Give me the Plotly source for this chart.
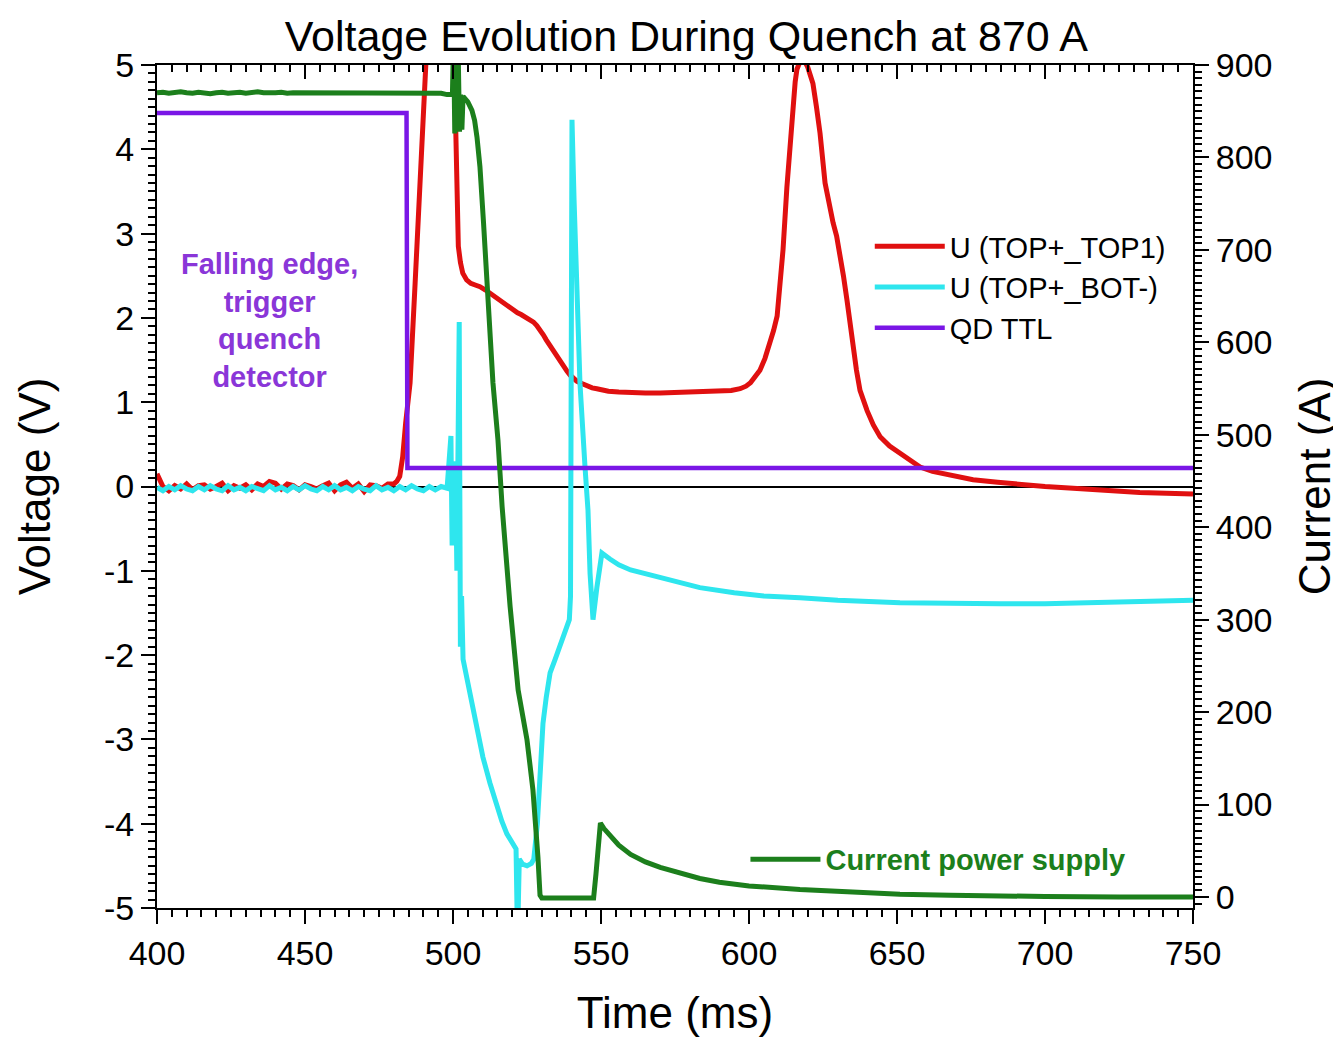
import plotly.graph_objects as go

# ---------------- data ----------------
# U (TOP+_TOP1)  [V]
red_base_t = [400 + 2 * i for i in range(41)]
red_base_v = [0.15, 0.0, -0.05, 0.01, -0.03, 0.03, -0.04, 0.01, 0.02, -0.03, 0.0, 0.04, -0.05, 0.01,
              -0.02, 0.02, -0.04, 0.03, 0.0, 0.06, 0.04, -0.03, 0.03, 0.01, -0.04, 0.02, 0.0, -0.03,
              0.01, 0.04, -0.05, 0.02, 0.05, -0.02, 0.03, -0.06, 0.02, 0.01, -0.02, 0.03, 0.03]
red_t = [481, 482, 483, 484, 485.5, 487.2, 488.9, 490.5, 492, 495, 498, 500.3, 500.7, 501.1, 501.8,
         502.5, 503.3, 504.6, 506, 507.5, 509.1, 511, 512.5, 514.5, 516, 518, 520.3, 521.8, 523, 524.5,
         526, 527.2, 528.3, 529.4, 530.5, 531.5, 532.6, 533.8, 535, 536.2, 537.4, 538.5, 539.6, 540.7,
         541.8, 542.9, 544.2, 545.5, 547, 548.6, 550.5, 552.5, 556, 560, 565, 570, 580, 590, 594,
         597, 599, 600.5, 602, 603.7, 605.4, 607.1, 608.3, 609.5, 610.5, 611.5, 612.8, 613.9, 614.9,
         615.6, 616.2, 617, 618, 619, 619.8, 620.7, 621.6, 622.8, 624, 625.7, 627, 628.4, 629.6,
         630.7, 631.9, 633.1, 634.1, 635.1, 636.3, 637.5, 638.7, 639.9, 642, 644.3, 647.5, 651,
         654.5, 657.8, 662, 666.9, 671, 675.7, 684, 692.6, 700, 709.5, 720, 732, 741, 750]
red_v = [0.06, 0.12, 0.35, 0.75, 1.23, 2.41, 3.79, 4.94, 6.2, 8.0, 7.5, 5.6, 4.6, 3.9, 2.85,
         2.66, 2.53, 2.45, 2.41, 2.39, 2.37, 2.33, 2.29, 2.24, 2.2, 2.15, 2.09, 2.06, 2.04, 2.01,
         1.98, 1.95, 1.91, 1.86, 1.80, 1.74, 1.68, 1.61, 1.54, 1.48, 1.42, 1.37, 1.32, 1.28,
         1.25, 1.23, 1.21, 1.19, 1.17, 1.16, 1.14, 1.13, 1.12, 1.11, 1.11, 1.11, 1.12, 1.13, 1.14,
         1.16, 1.19, 1.23, 1.29, 1.38, 1.52, 1.70, 1.85, 2.02, 2.35, 2.81, 3.55, 4.10, 4.55,
         4.80, 4.95, 5.02, 5.05, 5.03, 4.98, 4.90, 4.78, 4.50, 4.19, 3.60, 3.35, 3.13, 2.97,
         2.78, 2.50, 2.21, 1.92, 1.64, 1.38, 1.14, 1.00, 0.90, 0.73, 0.59, 0.48, 0.39,
         0.30, 0.23, 0.18, 0.14, 0.11, 0.08, 0.05, 0.02, 0.0, -0.02, -0.05, -0.07, -0.08, -0.09]

# U (TOP+_BOT-)  [V]
cyan_base_t = [400 + 2 * i for i in range(50)]
cyan_base_v = [-0.01, -0.05, 0.0, -0.04, 0.01, -0.03, -0.05, 0.0, -0.04, 0.01, -0.03, -0.05, 0.01,
               -0.04, -0.01, -0.05, 0.0, -0.03, -0.05, 0.01, -0.04, -0.01, -0.05, 0.0, -0.04, 0.01,
               -0.03, -0.05, 0.0, -0.04, 0.01, -0.04, -0.01, -0.05, 0.0, -0.03, -0.05, 0.01, -0.04,
               -0.01, -0.05, 0.0, -0.04, 0.01, -0.03, -0.05, 0.0, -0.04, 0.0, -0.02]
cyan_t = [499.3, 499.7, 500.1, 500.5, 500.9, 501.3, 501.7, 502.1, 502.5, 502.9, 503.4, 505, 506.8,
          508.5, 510.1, 512.5, 514.9, 516.5, 518.2, 519.5, 520.6, 521.3, 521.8, 522.4, 523.5, 525,
          526.5, 527.3, 528.5, 529.4, 530.4, 531.5, 532.8, 534.5, 536.1, 537.8, 539.3, 539.7, 540.2,
          540.9, 541.9, 542.9, 544.6, 545.6, 546.3, 547.3, 548.6, 550.3, 553, 556, 560, 566.6, 575,
          583.4, 595, 605, 617.2, 630, 651, 668, 684.8, 700, 718.6, 735, 750]
cyan_v = [0.6, -0.7, 0.3, -0.6, 0.2, -1.0, 0.5, 1.95, -1.9, -1.3, -2.05, -2.32, -2.62,
          -2.92, -3.21, -3.52, -3.80, -3.97, -4.12, -4.19, -4.25, -4.3, -5.4, -4.42, -4.48, -4.5,
          -4.47, -4.42, -4.0, -3.40, -2.81, -2.5, -2.21, -2.05, -1.90, -1.75, -1.58, -1.3, 4.35,
          3.4, 2.41, 1.22, 0.23, -0.28, -1.03, -1.58, -1.2, -0.79, -0.86, -0.93, -0.99, -1.05, -1.13,
          -1.2, -1.26, -1.30, -1.32, -1.35, -1.38, -1.39, -1.39, -1.39, -1.38, -1.37, -1.35]

# QD TTL  [V]
ttl_t = [400, 484.3, 484.6, 750]
ttl_v = [4.43, 4.43, 0.22, 0.22]

# Current power supply  [A]
cur_base_t = [400 + 2 * i for i in range(50)]
cur_base_a = [870, 870.5, 869.5, 870, 871, 870, 869.5, 870.5, 870, 869, 870, 870.5, 869.5, 870,
              870.5, 869.5, 870, 871, 870, 869.5, 870, 870.5, 869.5, 870, 870, 870.5, 869.5, 870,
              870.5, 870, 869.5, 870, 870.5, 869.5, 870, 870, 870.5, 869.5, 870, 870.5, 869.5, 870,
              870, 869.5, 870.5, 870, 869.5, 870, 869.5, 868]
cur_t = [499.8, 500.2, 500.6, 501.0, 501.4, 501.8, 502.2, 502.6, 503.0, 503.4, 505, 506.4, 507.3,
         508.1, 509.1, 510.3, 511.5, 513.5, 515.2, 516.6, 519.3, 522, 525, 527, 528.7, 529.4, 530,
         535, 540, 544, 547.5, 548.3, 549.1, 549.8, 551, 553, 556, 560, 565, 570, 575, 583.4, 590,
         600, 617.2, 630, 651, 668, 684.8, 700, 725, 750]
cur_a = [868, 930, 826, 950, 830, 905, 828, 868, 830, 866, 860, 851, 840,
         822, 790, 730, 664, 556, 494, 422, 314, 224, 170, 116, 43, 2, -1,
         -1, 0, -1, -1, 25, 58, 80, 74, 66, 56, 46, 38, 32, 27, 20, 16,
         12, 8, 6, 3, 2, 1, 0.5, 0, 0]

v_ticks = [-5, -4, -3, -2, -1, 0, 1, 2, 3, 4, 5]
v_tick_labels = ["-5", "-4", "-3", "-2", "-1", "0", "1", "2", "3", "4", "5"]

title_text = "Voltage Evolution During Quench at 870 A"
note_text = "Falling edge,<br>trigger<br>quench<br>detector"

# ---------------- style ----------------
RED = "#E01010"
CYAN = "#2EE6EE"
PURPLE = "#7A16E6"
GREEN = "#1C7F1C"
NOTE_PURPLE = "#8A36D8"
FONT = "Liberation Sans, Arial, sans-serif"

fig = go.Figure()
fig.add_trace(go.Scatter(x=red_base_t + red_t, y=red_base_v + red_v, mode="lines",
                         name="U (TOP+_TOP1)", line=dict(color=RED, width=5), legend="legend"))
fig.add_trace(go.Scatter(x=cyan_base_t + cyan_t, y=cyan_base_v + cyan_v, mode="lines",
                         name="U (TOP+_BOT-)", line=dict(color=CYAN, width=5), legend="legend"))
fig.add_trace(go.Scatter(x=ttl_t, y=ttl_v, mode="lines", name="QD TTL",
                         line=dict(color=PURPLE, width=4.5), legend="legend"))
fig.add_trace(go.Scatter(x=cur_base_t + cur_t, y=cur_base_a + cur_a, mode="lines",
                         name="Current power supply", line=dict(color=GREEN, width=5),
                         yaxis="y2", legend="legend2"))
# carrier trace for the top (mirror) axis
fig.add_trace(go.Scatter(x=[400, 750], y=[None, None], xaxis="x2", yaxis="y",
                         showlegend=False, hoverinfo="skip", mode="lines"))

TICKFONT = dict(family=FONT, size=34, color="black")
axis_common = dict(showline=True, linecolor="black", linewidth=2, showgrid=False,
                   tickcolor="black", tickwidth=2, ticklen=14, tickfont=TICKFONT)

fig.update_layout(
    width=1341, height=1037, autosize=False,
    margin=dict(l=149, r=156, t=57, b=137),
    paper_bgcolor="white", plot_bgcolor="white",
    font=dict(family=FONT, color="black"),
    title=dict(text=title_text, x=0.511, xref="paper", y=0.973, yref="container",
               xanchor="center", yanchor="middle", font=dict(family=FONT, size=43, color="black")),
    xaxis=dict(range=[400, 750], dtick=50, tick0=400, ticks="outside", zeroline=False,
               minor=dict(ticks="outside", dtick=5, ticklen=7, tickwidth=1.5, tickcolor="black"),
               title=dict(text="Time (ms)", font=dict(family=FONT, size=44), standoff=26),
               **axis_common),
    xaxis2=dict(range=[400, 750], overlaying="x", side="top", anchor="y", dtick=50, tick0=400,
                ticks="inside", showticklabels=False, zeroline=False,
                minor=dict(ticks="inside", dtick=5, ticklen=7, tickwidth=1.5, tickcolor="black"),
                showline=True, linecolor="black", linewidth=2, showgrid=False,
                tickcolor="black", tickwidth=2, ticklen=14),
    yaxis=dict(range=[-5, 5], tickmode="array", tickvals=v_ticks, ticktext=v_tick_labels,
               ticks="outside", zeroline=True, zerolinecolor="black", zerolinewidth=1.5,
               minor=dict(ticks="outside", dtick=0.1, tick0=0, ticklen=7, tickwidth=1.5,
                          tickcolor="black"),
               title=dict(text="Voltage (V)", font=dict(family=FONT, size=44), standoff=40),
               **axis_common),
    yaxis2=dict(range=[-11.9, 900], dtick=100, tick0=0, ticks="outside", overlaying="y",
                side="right", anchor="x", zeroline=False,
                minor=dict(ticks="outside", dtick=50 / 7, ticklen=7, tickwidth=1.5, tickcolor="black"),
                title=dict(text="Current (A)", font=dict(family=FONT, size=44), standoff=28),
                **axis_common),
    legend=dict(x=0.688, y=0.815, xanchor="left", yanchor="top", bgcolor="rgba(0,0,0,0)",
                font=dict(family=FONT, size=29, color="black"), itemwidth=70,
                traceorder="normal", tracegroupgap=0),
    legend2=dict(x=0.568, y=0.088, xanchor="left", yanchor="top", bgcolor="rgba(0,0,0,0)",
                 font=dict(family=FONT, size=29, color=GREEN, weight="bold"), itemwidth=70),
    annotations=[dict(text=note_text, x=0.109, y=0.697, xref="paper", yref="paper",
                      xanchor="center", yanchor="middle", showarrow=False, align="center",
                      font=dict(family=FONT, size=29, color=NOTE_PURPLE, weight="bold"))],
)

fig.write_html("out.html")
